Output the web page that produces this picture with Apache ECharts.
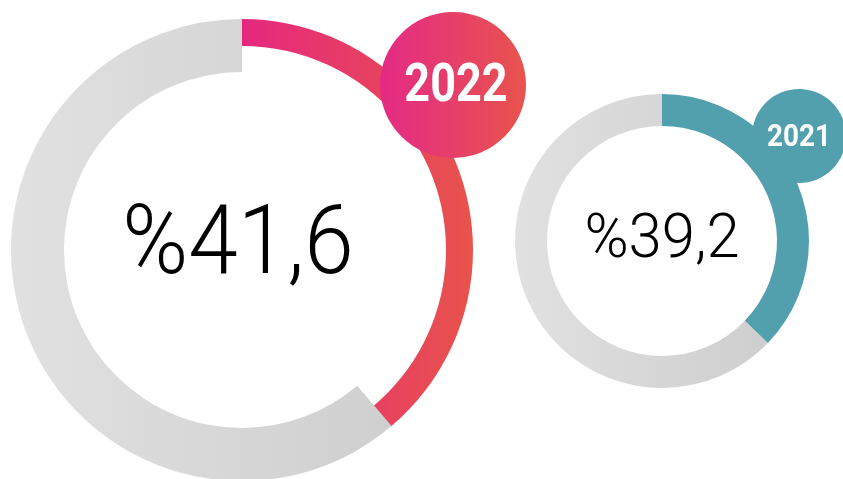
<!DOCTYPE html>
<html>
<head>
<meta charset="utf-8">
<script src="https://cdn.jsdelivr.net/npm/echarts@6/dist/echarts.min.js"></script>
<style>
  html, body { margin: 0; padding: 0; background: #fff; }
  #chart { width: 843px; height: 479px; }
</style>
</head>
<body>
<div id="chart"></div>
<script>
  // share of the ring filled (percent)
  var years = ['2022', '2021'];
  var arcShares = [38.8, 37.2];
  var shareLabels = ['%41,6', '%39,2'];

  var grayRing = function (x1, x2) {
    return new echarts.graphic.LinearGradient(x1, 0, x2, 0, [
      {offset: 0, color: '#e1e1e1'},
      {offset: 1, color: '#cbcbcb'}
    ], true);
  };
  var pinkArc = new echarts.graphic.LinearGradient(242, 0, 473, 0, [
    {offset: 0, color: '#e5287f'},
    {offset: 1, color: '#e8534b'}
  ], true);
  var pinkBadge = new echarts.graphic.LinearGradient(380, 0, 526, 0, [
    {offset: 0, color: '#e42a86'},
    {offset: 1, color: '#e8544c'}
  ], true);
  var teal = '#529fae';
  var none = {color: 'rgba(0,0,0,0)'};

  function ring(center, radius, value, style, first) {
    // first=true: the filled part is coloured, rest invisible; else reverse
    return {
      type: 'pie',
      silent: true,
      center: center,
      radius: radius,
      startAngle: 90,
      clockwise: true,
      label: {show: false},
      labelLine: {show: false},
      data: [
        {value: value, itemStyle: first ? {color: style} : none},
        {value: 100 - value, itemStyle: first ? none : {color: style}}
      ]
    };
  }

  function badge(center, r, color) {
    return {
      type: 'pie',
      silent: true,
      center: center,
      radius: [0, r],
      label: {show: false},
      labelLine: {show: false},
      data: [{value: 1, itemStyle: {color: color}}]
    };
  }

  function txt(x, y, text, size, weight, color, sx) {
    return {
      type: 'text',
      x: x,
      y: y,
      scaleX: sx,
      z: 10,
      style: {
        text: text,
        x: 0,
        y: 0,
        align: 'center',
        verticalAlign: 'middle',
        fontFamily: 'Roboto',
        fontSize: size,
        fontWeight: weight,
        fill: color
      }
    };
  }

  var myChart = echarts.init(document.getElementById('chart'));
  var option = {
    animation: false,
    series: [
      ring([242, 250], [178, 231], arcShares[0], grayRing(11, 473), false),
      ring([242, 250], [204, 231], arcShares[0], pinkArc, true),
      ring([662, 241], [115, 147], arcShares[1], grayRing(515, 808), false),
      ring([662, 241], [115, 147], arcShares[1], teal, true),
      badge([453, 85], 73, pinkBadge),
      badge([799, 136], 47, teal)
    ],
    graphic: [
      txt(238, 249, shareLabels[0], 96, 300, '#000', 0.93),
      txt(662, 242, shareLabels[1], 61, 300, '#000', 0.98),
      txt(456, 88, years[0], 53, 'bold', '#fff', 0.85),
      txt(799, 138, years[1], 32, 'bold', '#fff', 0.87)
    ]
  };
  myChart.setOption(option);
</script>
</body>
</html>
